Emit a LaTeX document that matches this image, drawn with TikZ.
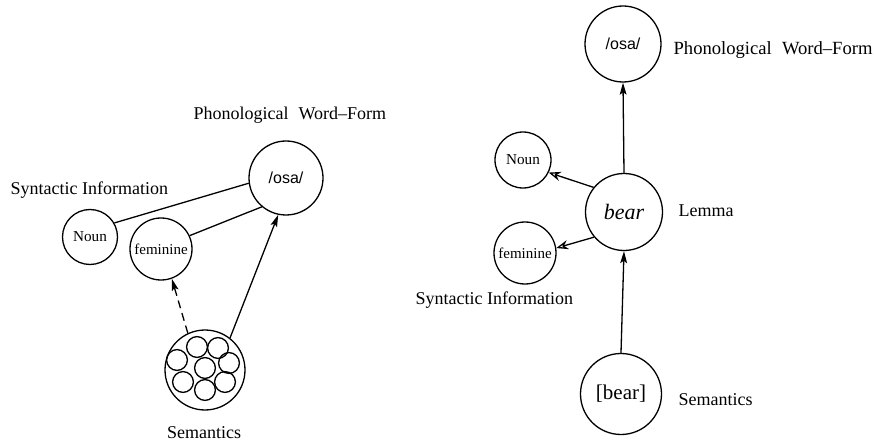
\documentclass[tikz,border=0pt]{standalone}
\usepackage{fontspec}
\setmainfont{Liberation Serif}
\newfontfamily\osafont{Liberation Sans}
\usetikzlibrary{arrows.meta}
\begin{document}
\begin{tikzpicture}[x=0.5pt, y=-0.5pt, line join=round, line width=0.65pt,
  >={Stealth[length=6pt,width=3.4pt,inset=1.2pt]},
  open/.style={-{Stealth[open,length=6pt,width=4.6pt,inset=2pt]}},
  ring/.style={draw, circle, inner sep=0pt},
  lbl/.style={inner sep=0pt, anchor=base west, font=\fontsize{9}{11}\selectfont},
  small/.style={font=\fontsize{7.6}{9}\selectfont}]
 \useasboundingbox (0,0) rectangle (874,444);
 % left picture
 \node[ring, minimum size=37pt, font=\osafont\fontsize{8}{10}\selectfont] (osaL) at (286,178) {/osa/};
 \node[ring, minimum size=27.5pt, small] (nounL) at (90,237) {Noun};
 \node[ring, minimum size=31pt, font=\fontsize{7.5}{9}\selectfont] (femL) at (161,249) {feminine};
 \node[ring, minimum size=40pt] (semL) at (205,370) {};
 \foreach \dx/\dy in {-8/-23, 13/-22, -28/-10, 0/-2, 24/-7, -22/12, 0/20, 20/12}
  \draw ([shift={(\dx,\dy)}]semL.center) circle[radius=5.2pt];
 \node[lbl] at (193,120) {Phonological\hspace{0.55em}Word--Form};
 \node[lbl] at (10,195) {Syntactic Information};
 \node[lbl, anchor=base] at (204,438) {Semantics};
 \draw (nounL.30) -- (osaL.188);
 \draw (femL.25) -- (osaL.230);
 \draw[->, dashed, dash pattern=on 4pt off 2.5pt] (semL.115) -- (femL.290);
 \draw[->] (semL.52) -- (osaL.258);
 % right picture
 \node[ring, minimum size=38pt, font=\osafont\fontsize{8}{10}\selectfont] (osaR) at (623,44) {/osa/};
 \node[ring, minimum size=38.5pt, font=\fontsize{11}{13}\selectfont\itshape] (bearR) at (624,212) {bear};
 \node[ring, minimum size=28pt, small] (nounR) at (523,160) {Noun};
 \node[ring, minimum size=31pt, font=\fontsize{7.5}{9}\selectfont] (femR) at (525,253) {feminine};
 \node[ring, minimum size=40.5pt, font=\fontsize{10.5}{12}\selectfont] (semR) at (621,394) {[bear]};
 \node[lbl, font=\fontsize{9.3}{11}\selectfont] at (673,55) {Phonological\hspace{0.55em}Word--Form};
 \node[lbl] at (678,217) {Lemma};
 \node[lbl] at (415,305) {Syntactic Information};
 \node[lbl] at (678,405) {Semantics};
 \draw[->] (bearR.north) -- (osaR.south);
 \draw[->] (semR.north) -- (bearR.south);
 \draw[open] (bearR.141) -- (nounR.334);
 \draw[open] (bearR.220) -- (femR.9);
\end{tikzpicture}
\end{document}
